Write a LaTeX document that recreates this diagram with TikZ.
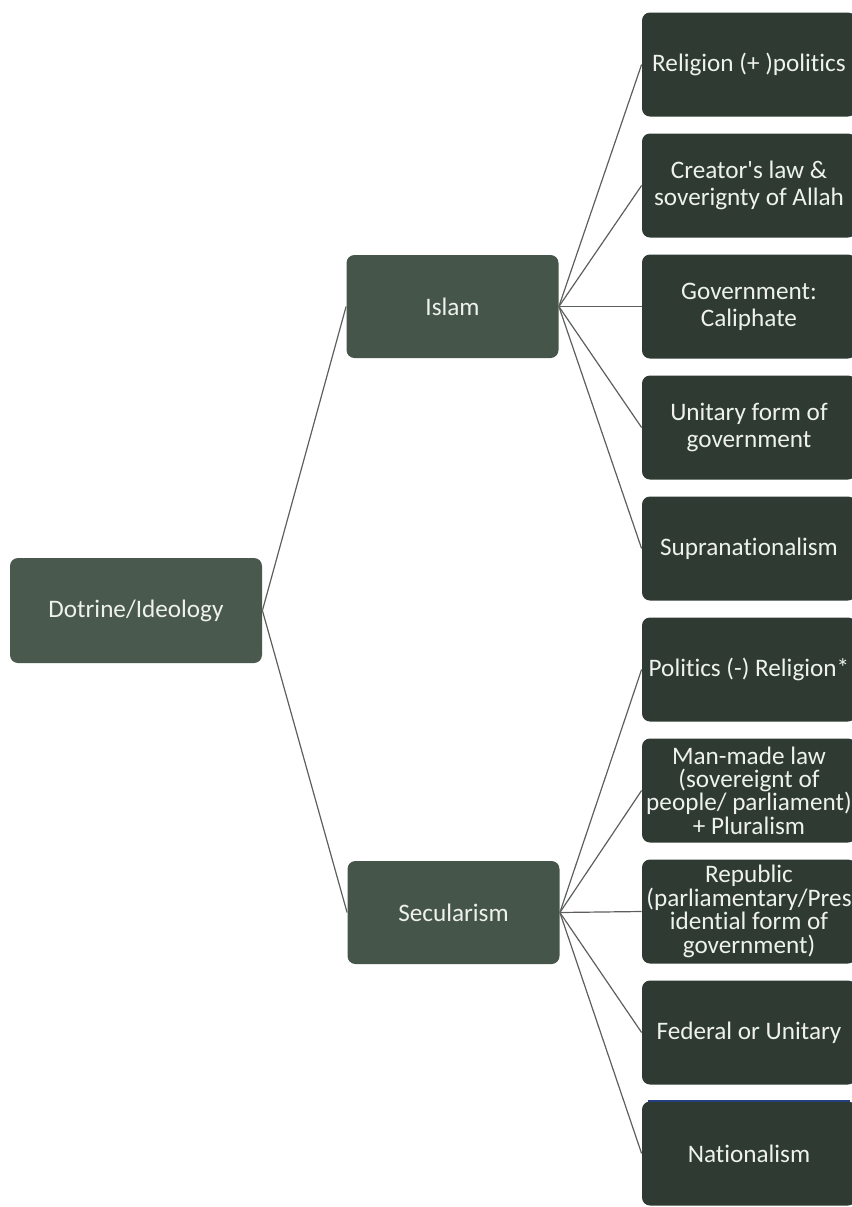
\documentclass[tikz,border=0pt]{standalone}
\usepackage{fontspec}
\setmainfont{Carlito}[Ligatures={TeXOff,CommonOff}]
\usetikzlibrary{positioning}
\definecolor{TreeInk}{HTML}{EEF1EC}
\definecolor{TreeRoot}{HTML}{4A594E}
\definecolor{TreeMid}{HTML}{46554A}
\definecolor{TreeLeaf}{HTML}{2E3A32}
\definecolor{TreeLine}{HTML}{5C605D}
\definecolor{TreeEdge}{HTML}{24407E}
\tikzset{
  every node/.style={font=\fontsize{12.6}{13.6}\selectfont, text=TreeInk},
  box/.style={rounded corners=4pt, align=center, inner sep=0pt},
  rootbox/.style={box, fill=TreeRoot, minimum width=126pt, minimum height=52.5pt},
  midbox/.style={box, fill=TreeMid, minimum width=106pt, minimum height=51.5pt},
  leafbox/.style={box, fill=TreeLeaf, minimum width=107pt, minimum height=52pt},
  link/.style={draw=TreeLine, line width=0.6pt},
}

\begin{document}
\begin{tikzpicture}[x=0.5pt, y=-0.5pt]
  \useasboundingbox (0,0) rectangle (852,1207);
  % Root and the two branches
  \node[rootbox] (root) at (136,610.5) {Dotrine/Ideology};
  \node[midbox] (islam) at (452.5,306.5) {Islam};
  \node[midbox] (secular) at (453.5,912.5) {Secularism};
  \draw[link] (root.east) -- (islam.west);
  \draw[link] (root.east) -- (secular.west);
  % Islam leaves
  \foreach \txt [count=\i] in {
      {Religion (+ )politics},
      {Creator's law \&\\ soverignty of Allah},
      {Government:\\ Caliphate},
      {Unitary form of\\ government},
      {Supranationalism}} {
    \node[leafbox] (isl-\i) at (749,{64.5+121*(\i-1)}) {\txt};
    \draw[link] (islam.east) -- (isl-\i.west);
  }
  % Secularism leaves
  \foreach \txt [count=\i] in {
      {Politics (-) Religion*},
      {Man-made law\\[-1.9pt] (sovereignt of\\[-1.9pt] people/ parliament)\\[-1.9pt] + Pluralism},
      {Republic\\[-1.9pt] (parliamentary/Pres\\[-1.9pt] idential form of\\[-1.9pt] government)},
      {Federal or Unitary},
      {Nationalism}} {
    \node[leafbox] (sec-\i) at (749,{669.5+121*(\i-1)}) {\txt};
    \draw[link] (secular.east) -- (sec-\i.west);
  }
  % thin blue rim on the last box
  \draw[TreeEdge, line width=1pt] ([xshift=3pt]sec-5.north west) -- ([xshift=-3pt]sec-5.north east);
\end{tikzpicture}
\end{document}
